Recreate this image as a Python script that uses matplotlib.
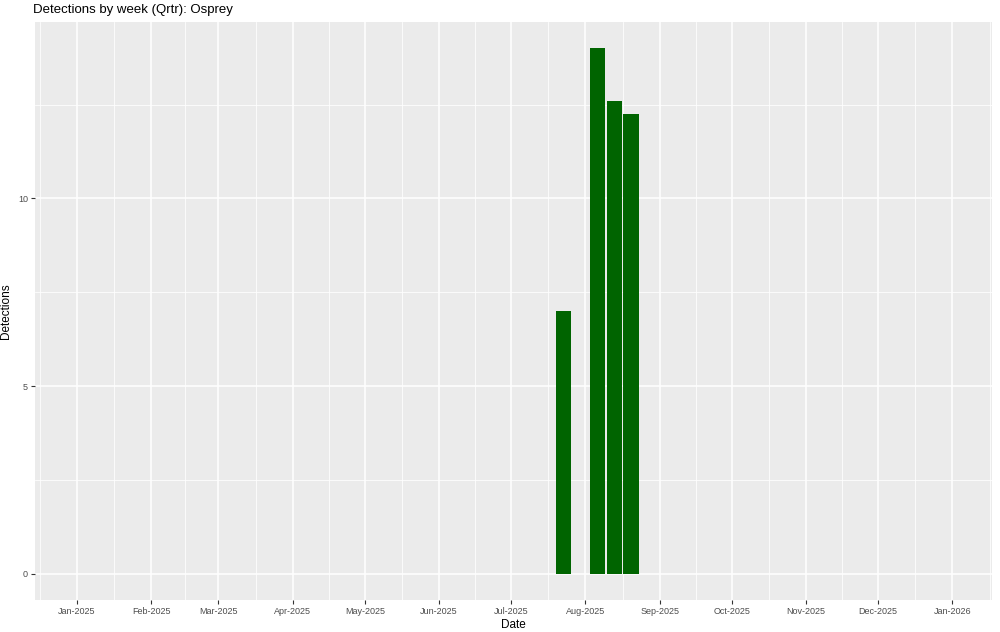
import matplotlib
matplotlib.use("Agg")
import matplotlib.pyplot as plt
import matplotlib.dates as mdates
import numpy as np
import datetime as dt

# Data
week_dates = ["2025-07-23", "2025-08-06", "2025-08-13", "2025-08-20"]
detections = [7.0, 14.0, 12.6, 12.25]
tick_months = ["2025-01-01", "2025-02-01", "2025-03-01", "2025-04-01", "2025-05-01",
               "2025-06-01", "2025-07-01", "2025-08-01", "2025-09-01", "2025-10-01",
               "2025-11-01", "2025-12-01", "2026-01-01"]
title = "Detections by week (Qrtr): Osprey"

plt.rcParams['font.family'] = ['Liberation Sans', 'DejaVu Sans']

dates = [dt.datetime.strptime(d, "%Y-%m-%d") for d in week_dates]
ticks = [dt.datetime.strptime(d, "%Y-%m-%d") for d in tick_months]

fig = plt.figure(figsize=(10, 6.32), dpi=100)
ax = fig.add_axes([35/1000, 1 - 600/632, (992-35)/1000, (600-22)/632])
ax.set_facecolor("#EBEBEB")

xnum = mdates.date2num(dates)
ax.bar(xnum, detections, width=6.3, color="#006400", edgecolor="none", zorder=3)

# grid
tnum = mdates.date2num(ticks)
minor_x = list((tnum[:-1] + tnum[1:]) / 2)
minor_x = [tnum[0] - (tnum[1] - tnum[0]) / 2] + minor_x + [tnum[-1] + (tnum[1] - tnum[0]) / 2]
ax.set_xticks(tnum)
ax.set_xticks(minor_x, minor=True)
ax.set_xticklabels([t.strftime("%b-%Y") for t in ticks])
ax.set_yticks([0, 5, 10])
ax.set_yticks([2.5, 7.5, 12.5], minor=True)
ax.grid(which="major", color="white", linewidth=1.1, zorder=0)
ax.grid(which="minor", color="white", linewidth=0.55, zorder=0)
ax.set_axisbelow(True)

xmin = mdates.date2num(dt.datetime(2024, 12, 14, 12))
xmax = mdates.date2num(dt.datetime(2026, 1, 17, 12))
ax.set_xlim(xmin, xmax)
ax.set_ylim(-0.7, 14.7)

for s in ax.spines.values():
    s.set_visible(False)
ax.tick_params(which="major", length=3, width=0.8, color="#333333", labelcolor="#4D4D4D",
               labelsize=6.5, pad=2)
ax.tick_params(which="minor", length=0)

ax.set_xlabel("Date", fontsize=8.5, color="black", labelpad=2)
ax.set_ylabel("Detections", fontsize=8.5, color="black", labelpad=4)
fig.text(33/1000, 1 - 10/632, title, fontsize=9.5, ha="left", va="center", color="black")

fig.savefig("out.png", dpi=100, facecolor="white")
